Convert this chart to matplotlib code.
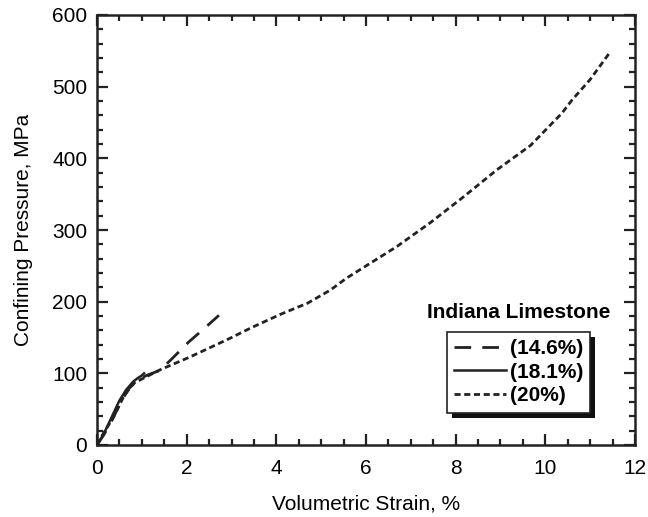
import matplotlib as mpl
import matplotlib.pyplot as plt
from matplotlib.patches import Rectangle
from matplotlib.ticker import MultipleLocator

mpl.use('AGG')

plt.rcParams['font.family'] = ['Liberation Sans', 'DejaVu Sans']

# Data -----------------------------------------------------------------------------------------
strain_146 = [0.0, 0.15, 0.3, 0.5, 0.7, 0.9, 1.1, 1.4, 1.65, 2.05, 2.4, 2.72]
press_146 = [0, 14, 30, 56, 78, 90, 97, 104, 119, 144, 163, 181]

strain_181 = [0.0, 0.1, 0.2, 0.35, 0.5, 0.65, 0.8, 0.9, 1.0, 1.05]
press_181 = [0, 10, 22, 42, 62, 77, 88, 93, 97, 100]

strain_20 = [0.0, 0.14, 0.37, 0.59, 0.81, 1.03, 1.41, 2.08, 2.97, 3.42, 4.08, 4.7,
	5.2, 5.57, 6.69, 7.43, 8.17, 8.92, 9.67, 10.37, 10.59, 11.0, 11.43]
press_20 = [0, 16, 39, 67, 86, 93, 105, 123, 149, 163, 182, 198,
	216, 233, 277, 310, 346, 384, 418, 463, 481, 510, 547]

legend_labels = ['(14.6%)', '(18.1%)', '(20%)']

# Figure ---------------------------------------------------------------------------------------
(fig, ax1) = plt.subplots(figsize=(6.48, 5.17), dpi=100)
fig.subplots_adjust(left=97/648, right=635/648, top=1 - 15/517, bottom=1 - 445/517)

ax1.plot(strain_146, press_146, color='#222222', linewidth=2.0,
	dashes=(6, 4), label=legend_labels[0])
ax1.plot(strain_181, press_181, color='#222222', linewidth=1.8,
	linestyle='-', label=legend_labels[1])
ax1.plot(strain_20, press_20, color='#222222', linewidth=2.0,
	dashes=(2.2, 1.3), label=legend_labels[2])

ax1.set_xlim(0, 12)
ax1.set_ylim(0, 600)
ax1.xaxis.set_major_locator(MultipleLocator(2))
ax1.xaxis.set_minor_locator(MultipleLocator(0.5))
ax1.yaxis.set_major_locator(MultipleLocator(100))
ax1.yaxis.set_minor_locator(MultipleLocator(20))

ax1.tick_params(which='both', direction='in', top=True, right=True,
	color='#222222', labelsize=15, width=1.6)
ax1.tick_params(which='major', length=8)
ax1.tick_params(axis='x', which='major', pad=10)
ax1.tick_params(axis='y', which='major', pad=7)
ax1.tick_params(which='minor', length=4.5)
for s in ax1.spines.values():
	s.set_linewidth(1.8)
	s.set_color('#222222')

ax1.set_xlabel('Volumetric Strain, %', fontsize=15, labelpad=12)
ax1.set_ylabel('Confining Pressure, MPa', fontsize=15, labelpad=14)

# Legend with title above and a solid black shadow
ax1.text(0.784, 0.307, 'Indiana Limestone', transform=ax1.transAxes,
	ha='center', va='center', fontsize=15, fontweight='bold')

leg = ax1.legend(loc='upper left', bbox_to_anchor=(0.6506, 0.263),
	frameon=True, fancybox=False, edgecolor='#222222', framealpha=1,
	prop={'weight': 'bold', 'size': 15}, handlelength=2.5, handletextpad=0.15,
	labelspacing=0.22, borderpad=0.35, borderaxespad=0)
leg.get_frame().set_linewidth(1.2)

fig.canvas.draw()
bb = leg.get_window_extent().transformed(fig.transFigure.inverted())
dx = 5 / 648
dy = 5 / 517
shadow = Rectangle((bb.x0 + dx, bb.y0 - dy), bb.width, bb.height,
	transform=fig.transFigure, facecolor='#111111', edgecolor='none', zorder=4)
ax1.add_artist(shadow)
shadow.set_clip_on(False)
leg.set_zorder(5)

fig.savefig('out.png', dpi=100)
plt.close()
